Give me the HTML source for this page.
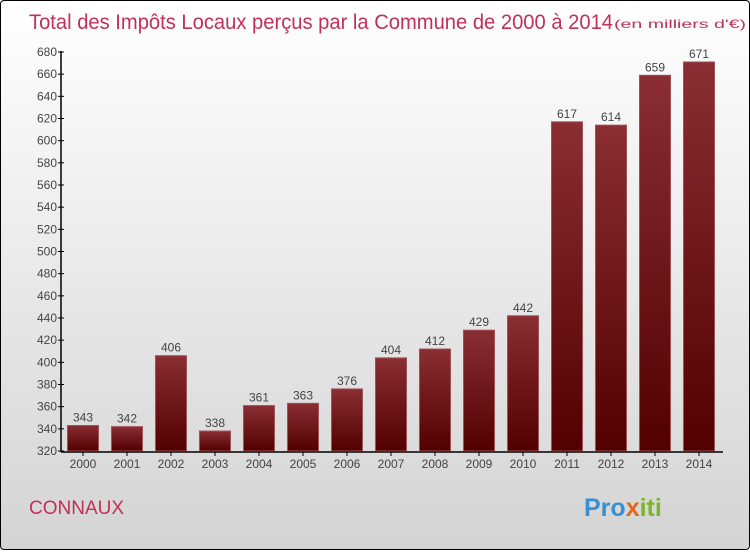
<!DOCTYPE html>
<html><head><meta charset="utf-8"><style>
html,body{margin:0;padding:0}
body{width:750px;height:550px;overflow:hidden;font-family:"Liberation Sans",sans-serif}
#frame{position:absolute;left:0;top:0;width:748px;height:548px;border:1px solid #000;border-radius:4px;background:linear-gradient(#ffffff,#d4d4d4)}
text{font-family:"Liberation Sans",sans-serif}
</style></head><body>
<div id="frame">
<svg width="750" height="550">
<defs><linearGradient id="bg" x1="0" y1="0" x2="0" y2="1"><stop offset="0" stop-color="#8a2e33"/><stop offset="1" stop-color="#520000"/></linearGradient></defs>
<text x="28" y="28" font-size="21" fill="#c0305a" textLength="584" lengthAdjust="spacingAndGlyphs">Total des Impôts Locaux perçus par la Commune de 2000 à 2014</text>
<text x="613" y="27" font-size="12" fill="#c0305a" textLength="132" lengthAdjust="spacingAndGlyphs">(en milliers d'€)</text>
<g id="axes"></g><g id="bars"></g>
<text x="28" y="513" font-size="19" fill="#c0305a">CONNAUX</text>
<text x="583" y="515" font-size="25" font-weight="bold" fill="#3a8fd0">Pro<tspan fill="#e06a1a">x</tspan><tspan fill="#7ab52a">iti</tspan></text>
</svg></div>
<script>
const categories=["2000","2001","2002","2003","2004","2005","2006","2007","2008","2009","2010","2011","2012","2013","2014"];
const values=[343,342,406,338,361,363,376,404,412,429,442,617,614,659,671];
const ticks=[320,340,360,380,400,420,440,460,480,500,520,540,560,580,600,620,640,660,680];
const NS="http://www.w3.org/2000/svg";
const y=v=>450-(v-320)*(399/360);
const x=i=>82+i*44;
const ax=document.getElementById('axes'),bg=document.getElementById('bars');
function mk(t,a,p){const e=document.createElementNS(NS,t);for(const k in a)e.setAttribute(k,a[k]);p.appendChild(e);return e;}
let l=mk('line',{x1:60,y1:50,x2:60,y2:451,stroke:'#000','stroke-width':1.5},ax);


l=mk('line',{x1:60,y1:451,x2:722,y2:451,stroke:'#000','stroke-width':1.5},ax);


ticks.forEach(t=>{mk('line',{x1:57,x2:63,y1:y(t),y2:y(t),stroke:'#000'},ax);
const tx=mk('text',{x:56,y:y(t)+4,'text-anchor':'end','font-size':12,fill:'#444'},ax);tx.textContent=t;

});
categories.forEach((c,i)=>{
mk('line',{x1:x(i),x2:x(i),y1:451,y2:455,stroke:'#000'},ax);
const tx=mk('text',{x:x(i),y:467,'text-anchor':'middle','font-size':12,fill:'#444'},ax);tx.textContent=c;


const r=mk('rect',{x:x(i)-15.5,y:y(values[i]),width:31,height:450-y(values[i]),fill:'url(#bg)',stroke:'#a05058','stroke-width':1},bg);


const v=mk('text',{x:x(i),y:y(values[i])-4,'text-anchor':'middle','font-size':12,fill:'#444'},bg);v.textContent=values[i];


});
</script></body></html>
